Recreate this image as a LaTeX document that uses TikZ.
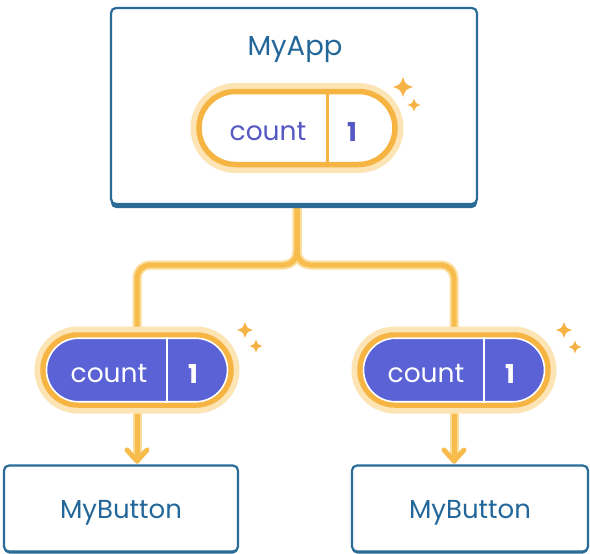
\documentclass[tikz,border=0pt]{standalone}
\usepackage{fontspec}
\setmainfont{Poppins}
\usetikzlibrary{shapes.misc,arrows.meta}
\definecolor{boxblue}{HTML}{2B6C97}
\definecolor{textblue}{HTML}{23679A}
\definecolor{ringor}{HTML}{F6B443}
\definecolor{glowor}{HTML}{FCE4B4}
\definecolor{wireor}{HTML}{F7BC4C}
\definecolor{wireglow}{HTML}{FBDC98}
\definecolor{pillfill}{HTML}{5A62D5}
\definecolor{purptext}{HTML}{5457C4}
\definecolor{sparkor}{HTML}{F5B346}
\tikzset{
  compbox/.style={draw=boxblue, line width=2.2pt, fill=white, rounded corners=5pt, inner sep=0pt},
  shadowbox/.style={fill=boxblue, rounded corners=5pt, inner sep=0pt},
  compname/.style={text=textblue, font=\fontsize{26}{26}\selectfont},
  pillglow/.style={rounded rectangle, draw=glowor, line width=17pt, inner sep=0pt},
  pillring/.style={rounded rectangle, draw=ringor, line width=5.5pt, inner sep=0pt},
  pillin/.style={rounded rectangle, fill=pillfill, draw=white, line width=1.6pt, inner sep=0pt},
  wire/.style={draw=wireor, line width=5pt, line cap=round, line join=round},
  wirehalo/.style={draw=wireglow, line width=9pt, line cap=round, line join=round},
  pilltext/.style={font=\fontsize{26.5}{26.5}\selectfont},
  pillnum/.style={font=\fontsize{26}{26}\selectfont\bfseries},
  spark/.pic={\fill[sparkor] (0,-10) .. controls (2.6,-2.6) .. (10,0) .. controls (2.6,2.6) .. (0,10) .. controls (-2.6,2.6) .. (-10,0) .. controls (-2.6,-2.6) .. (0,-10) -- cycle;}
}
\begin{document}
\begin{tikzpicture}[x=1pt,y=-1pt]
\useasboundingbox (0,0) rectangle (590,554);
\fill[white] (0,0) rectangle (590,554);

% node placements (coordinates)
\coordinate (appc) at (294,106);
\coordinate (lc) at (137,370);
\coordinate (rc) at (454,370);

% wires (drawn first)
\coordinate (top) at (297,200);
\coordinate (lt) at (137,340);
\coordinate (rt) at (454,340);
\coordinate (lb) at (137,400);
\coordinate (rb) at (454,400);
\coordinate (lend) at (137,461);
\coordinate (rend) at (454,461);
\draw[wirehalo, rounded corners=13pt] (top) -- (297,265) -| (lt);
\draw[wirehalo, rounded corners=13pt] (top) -- (297,265) -| (rt);
\draw[wirehalo] (lb) -- (137,455);
\draw[wirehalo] (rb) -- (454,455);
\draw[wire, rounded corners=13pt] (top) -- (297,265) -| (lt);
\draw[wire, rounded corners=13pt] (top) -- (297,265) -| (rt);
\draw[wire] (lb) -- (lend);
\draw[wire] (rb) -- (rend);
\draw[wire] (127,450) -- (lend) -- (147,450);
\draw[wire] (444,450) -- (rend) -- (464,450);

% MyApp box
\node[shadowbox, minimum width=366pt, minimum height=198pt] (appsh) at (294,109) {};
\node[compbox, minimum width=366pt, minimum height=196pt] (app) at (appc) {};
\node[compname, font=\fontsize{27.5}{27.5}\selectfont] (appname) at (295,50) {MyApp};

% top pill
\node[pillglow, minimum width=196pt, minimum height=73pt] (tglow) at (297,128) {};
\node[pillring, fill=white, minimum width=196pt, minimum height=73pt] (tpill) at (297,128) {};
\draw[ringor, line width=3pt] ([xshift=30pt]tpill.north) -- ([xshift=30pt]tpill.south);
\node[pilltext, text=purptext] (tcount) at (268,132) {count};
\node[pillnum, text=purptext] (tone) at (352,132) {1};
\pic at (403,87) {spark};
\pic[scale=0.65] at (414,105) {spark};

% left pill
\node[pillglow, minimum width=188pt, minimum height=70pt] (lglow) at (lc) {};
\node[pillring, minimum width=188pt, minimum height=70pt] (lring) at (lc) {};
\node[pillin, minimum width=181pt, minimum height=63.5pt] (lpill) at (lc) {};
\draw[white, line width=1.8pt] ([xshift=30pt]lpill.north) -- ([xshift=30pt]lpill.south);
\node[pilltext, text=white] (lcount) at (109,374) {count};
\node[pillnum, text=white] (lone) at (193,374) {1};
\pic[scale=0.8] at (245,330) {spark};
\pic[scale=0.65] at (256,346) {spark};

% right pill
\node[pillglow, minimum width=188pt, minimum height=70pt] (rglow) at (rc) {};
\node[pillring, minimum width=188pt, minimum height=70pt] (rring) at (rc) {};
\node[pillin, minimum width=181pt, minimum height=63.5pt] (rpill) at (rc) {};
\draw[white, line width=1.8pt] ([xshift=30pt]rpill.north) -- ([xshift=30pt]rpill.south);
\node[pilltext, text=white] (rcount) at (426,374) {count};
\node[pillnum, text=white] (rone) at (510,374) {1};
\pic[scale=0.8] at (564,330) {spark};
\pic[scale=0.65] at (575,347) {spark};

% MyButton boxes
\node[shadowbox, minimum width=234pt, minimum height=87pt] (lbsh) at (121,510) {};
\node[compbox, minimum width=234pt, minimum height=86pt] (lbtn) at (121,508.5) {};
\node[compname] (lbname) at (121,513) {MyButton};
\node[shadowbox, minimum width=236pt, minimum height=87pt] (rbsh) at (470,510) {};
\node[compbox, minimum width=236pt, minimum height=86pt] (rbtn) at (470,508.5) {};
\node[compname] (rbname) at (470,513) {MyButton};
\end{tikzpicture}
\end{document}
